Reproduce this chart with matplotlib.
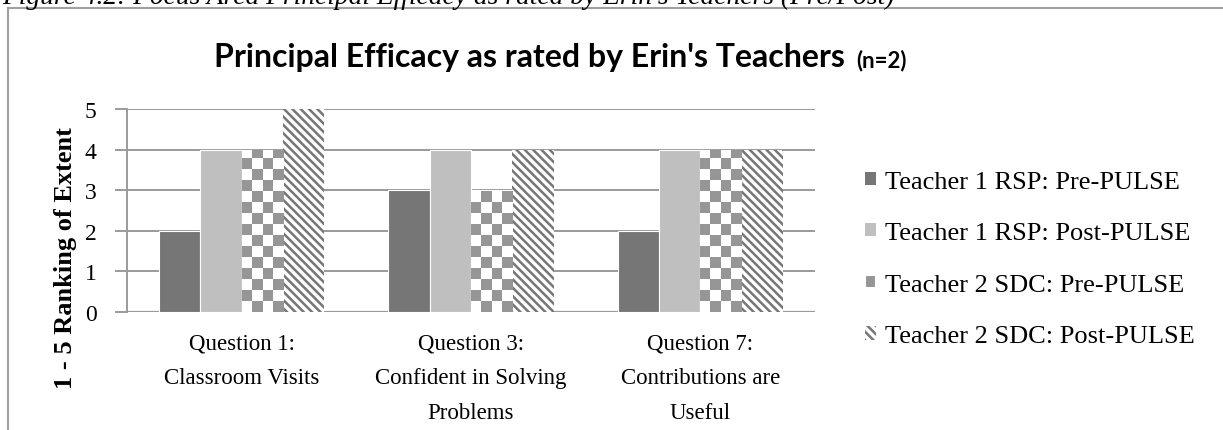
import matplotlib.pyplot as plt
import numpy as np
from matplotlib.patches import Rectangle

plt.rcParams['font.family'] = ['Liberation Serif', 'DejaVu Serif']
plt.rcParams['hatch.linewidth'] = 1.8

# Data
categories = ["Question 1:\nClassroom Visits",
              "Question 3:\nConfident in Solving\nProblems",
              "Question 7:\nContributions are\nUseful"]
series = ["Teacher 1 RSP: Pre-PULSE", "Teacher 1 RSP: Post-PULSE",
          "Teacher 2 SDC: Pre-PULSE", "Teacher 2 SDC: Post-PULSE"]
t1_pre = [2, 3, 2]
t1_post = [4, 4, 4]
t2_pre = [4, 3, 4]
t2_post = [5, 4, 4]

W, H = 1223, 431
fig = plt.figure(figsize=(W / 100, H / 100), dpi=100)
ax = fig.add_axes([127 / W, 1 - 313 / H, (815 - 127) / W, (313 - 110) / H])

# Outer frame and caption (cut off at top like the source page)
fig.add_artist(plt.Line2D([8 / W, 8 / W], [0, 1 - 9 / H], color='#a0a0a0', lw=1.5))
fig.add_artist(plt.Line2D([8 / W, 1], [1 - 9 / H, 1 - 9 / H], color='#a0a0a0', lw=1.5))
fig.text(2 / W, 1 - 4 / H, "Figure 4.2: Focus Area Principal Efficacy as rated by Erin's Teachers (Pre/Post)",
         fontsize=19.8, style='italic', ha='left', va='baseline')

x = np.arange(len(categories))
bw = 0.18
offsets = (np.arange(4) - 1.5) * bw

dark = '#767676'
light = '#bfbfbf'
check = '#969696'

ax.bar(x + offsets[0], t1_pre, bw, color=dark, edgecolor='white', linewidth=0.8, zorder=3)
ax.bar(x + offsets[1], t1_post, bw, color=light, edgecolor='white', linewidth=0.8, zorder=3)
bars2 = ax.bar(x + offsets[2], t2_pre, bw, color='white', edgecolor='white', linewidth=0.8, zorder=3)
ax.bar(x + offsets[3], t2_post, bw, color='white', edgecolor=dark, linewidth=0,
       hatch='\\\\\\\\', zorder=3)

ax.set_xlim(-0.5, len(categories) - 0.5)
ax.set_ylim(0, 5)

# checkerboard fill for Teacher 2 pre, clipped to each bar
cmap = plt.matplotlib.colors.ListedColormap(['white', check])
for b in bars2:
    x0, w, h = b.get_x(), b.get_width(), b.get_height()
    nx, ny = 4, int(round(h * 3.7))
    grid = (np.add.outer(np.arange(ny), np.arange(nx)) % 2).astype(float)
    im = ax.imshow(grid, cmap=cmap, extent=(x0, x0 + w, 0, ny / 3.7), origin='lower',
                   interpolation='nearest', aspect='auto', zorder=3.5)
    im.set_clip_path(b)

ax.set_yticks(range(6))
ax.yaxis.grid(True, color='#9a9a9a', linewidth=1.4, zorder=0)
ax.set_axisbelow(True)
for s in ['top', 'right', 'bottom']:
    ax.spines[s].set_visible(False)
ax.spines['left'].set_color('#9a9a9a')
ax.spines['left'].set_linewidth(1.4)
ax.axhline(0, color='#9a9a9a', linewidth=1.6, zorder=2)
ax.tick_params(axis='y', length=9, width=1.4, color='#9a9a9a', labelsize=17, pad=13)
ax.tick_params(axis='x', length=0, labelsize=16.5, pad=15)
ax.set_xticks(x)
ax.set_xticklabels(categories, linespacing=1.85)

fig.text(66 / W, 1 - 258 / H, "1 - 5 Ranking of Extent", rotation=90, fontsize=19,
         fontweight='bold', ha='center', va='center')

fig.text(845 / W, 1 - 58 / H, "Principal Efficacy as rated by Erin's Teachers", fontsize=23,
         fontweight='bold', ha='right', va='center', family='Lato')
fig.text(856 / W, 1 - 61 / H, "(n=2)", fontsize=16, fontweight='bold', ha='left', va='center',
         family='Lato')

# legend
handles = [Rectangle((0, 0), 1, 1, facecolor=dark, edgecolor='none'),
           Rectangle((0, 0), 1, 1, facecolor=light, edgecolor='none'),
           Rectangle((0, 0), 1, 1, facecolor=check, edgecolor='white', linewidth=1.5),
           Rectangle((0, 0), 1, 1, facecolor='white', edgecolor=dark, linewidth=0, hatch='\\\\\\\\')]
fig.legend(handles, series, loc='center left', bbox_to_anchor=(865 / W, 1 - 260 / H),
           frameon=False, fontsize=19, handlelength=0.4, handleheight=0.4,
           handletextpad=0.35, labelspacing=1.12, borderpad=0, borderaxespad=0)

fig.savefig('out.png', dpi=100)
